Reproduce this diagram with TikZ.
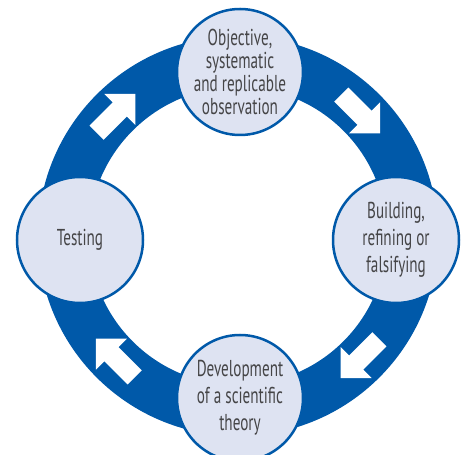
\documentclass[tikz,border=0pt]{standalone}
\usepackage{fontspec}
\setmainfont{PT Sans}[FakeStretch=0.66]
\definecolor{ringblue}{HTML}{0059A9}
\definecolor{circfill}{HTML}{DEE3F2}
\definecolor{txtgray}{HTML}{454547}
\begin{document}
\begin{tikzpicture}[x=1pt,y=1pt,
  stage/.style={circle, draw=ringblue, line width=2.5pt, fill=circfill,
    minimum size=126pt, inner sep=0pt, align=center, text=txtgray,
    font=\fontsize{23}{23}\selectfont},
  loose/.style={font=\fontsize{23}{27}\selectfont},
  ringarrow/.style={fill=white}]
\useasboundingbox (0,0) rectangle (461,455);
\fill[white] (0,0) rectangle (461,455);
\coordinate (O) at (238,219);
% ring
\fill[ringblue, even odd rule] (O) circle[radius=200] (O) circle[radius=149];
% arrows on the ring (clockwise)
\foreach \a in {135,45,-45,-135}{
  \fill[ringarrow, shift={(O)}, rotate=\a, xshift=173pt, rotate=-90]
    (28,0) -- (6,22) -- (6,10) -- (-27,10) -- (-27,-10) -- (6,-10) -- (6,-22) -- cycle;
}
% stages
\node[stage] (obs) at (240,383) {Objective,\\systematic\\and replicable\\observation};
\node[stage, loose] (build) at (396,215) {Building,\\refining or\\falsifying};
\node[stage, loose] (dev) at (240,57) {Development\\of a scientific\\theory};
\node[stage] (test) at (80,215) {Testing};
\end{tikzpicture}
\end{document}
